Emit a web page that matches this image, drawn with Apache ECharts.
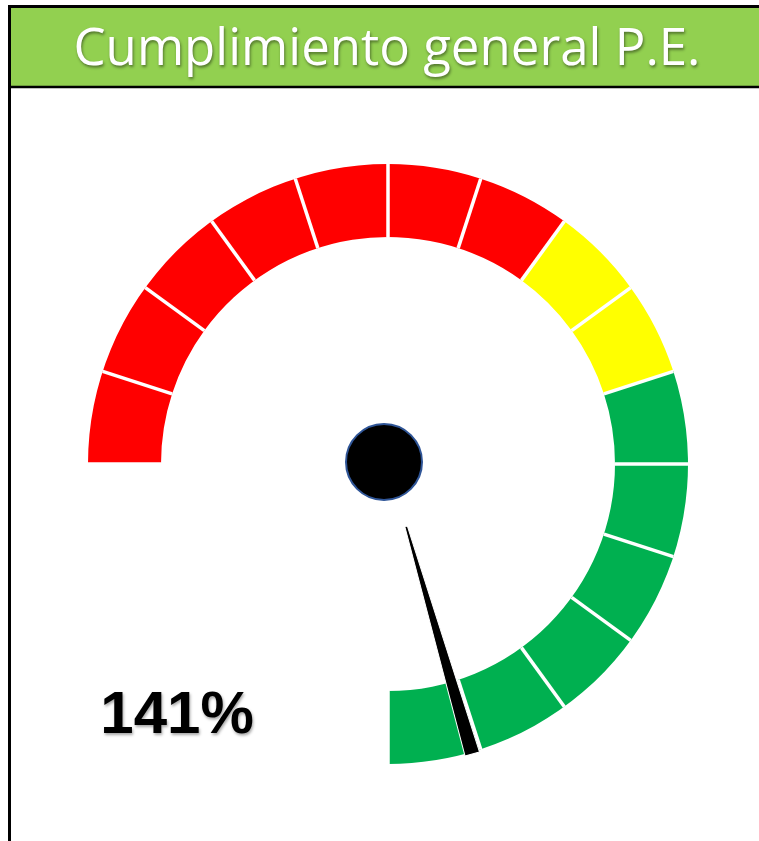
<!DOCTYPE html>
<html>
<head>
<meta charset="utf-8">
<script src="https://cdn.jsdelivr.net/npm/echarts@6/dist/echarts.min.js"></script>
<style>
  html, body { margin: 0; padding: 0; background: #fff; }
  #chart { width: 759px; height: 841px; }
</style>
</head>
<body>
<div id="chart"></div>
<script>
// datos del indicador
var titleText = 'Cumplimiento general P.E.';
var gaugeMin = 0;
var gaugeMax = 150;
var segments = 15;
var bandStops = [7 / 15, 9 / 15, 1];            // fin de rojo, amarillo, verde
var bandColors = ['#FF0000', '#FFFF00', '#00B050'];
var cumplimiento = [141];

var myChart = echarts.init(document.getElementById('chart'));

var bands = bandStops.map(function (s, i) { return [s, bandColors[i]]; });

var option = {
    backgroundColor: '#fff',
    animation: false,
    graphic: [
        // cabecera verde
        { type: 'rect', z: 0, shape: { x: 9, y: 6, width: 760, height: 81 }, style: { fill: '#92D050' } },
        { type: 'line', z: 1, shape: { x1: 9, y1: 87, x2: 770, y2: 87 }, style: { stroke: '#000', lineWidth: 2.5 } },
        // marco
        { type: 'rect', z: 1, shape: { x: 9.5, y: 6.5, width: 760, height: 850 }, style: { fill: 'none', stroke: '#000', lineWidth: 3 } },
        {
            type: 'text', z: 2, x: 387, y: 50,
            style: {
                text: titleText,
                fill: '#fff',
                font: '51px "Open Sans"',
                textAlign: 'center',
                textVerticalAlign: 'middle',
                textShadowColor: 'rgba(0,0,0,0.45)',
                textShadowBlur: 3,
                textShadowOffsetX: 1,
                textShadowOffsetY: 2
            }
        }
    ],
    series: [{
        type: 'gauge',
        center: [388, 464],
        radius: 300,
        startAngle: 180,
        endAngle: -90,
        min: gaugeMin,
        max: gaugeMax,
        splitNumber: segments,
        axisLine: {
            lineStyle: { width: 73, color: bands }
        },
        splitLine: {
            distance: -73,
            length: 73,
            lineStyle: { color: '#fff', width: 3.5 }
        },
        axisTick: { show: false },
        axisLabel: { show: false },
        pointer: {
            // cuña: ancha por fuera, estrecha cerca del centro
            icon: 'path://M0,0 L15,0 L8.8,237 L6.2,237 Z',
            length: 237,
            width: 15,
            offsetCenter: [0, -65],
            itemStyle: { color: '#000', borderColor: '#fff', borderWidth: 1 }
        },
        anchor: {
            show: true,
            showAbove: true,
            size: 76,
            offsetCenter: [-4, -2],
            itemStyle: { color: '#000', borderColor: '#2F5597', borderWidth: 2 }
        },
        title: { show: false },
        detail: {
            offsetCenter: [-211, 252],
            formatter: '{value}%',
            color: '#000',
            fontFamily: '"Liberation Sans", Arial, sans-serif',
            fontWeight: 'bold',
            fontSize: 60,
            textShadowColor: 'rgba(0,0,0,0.35)',
            textShadowBlur: 3,
            textShadowOffsetX: 1,
            textShadowOffsetY: 2
        },
        data: cumplimiento.map(function (v) { return { value: v }; })
    }]
};

myChart.setOption(option);
</script>
</body>
</html>
